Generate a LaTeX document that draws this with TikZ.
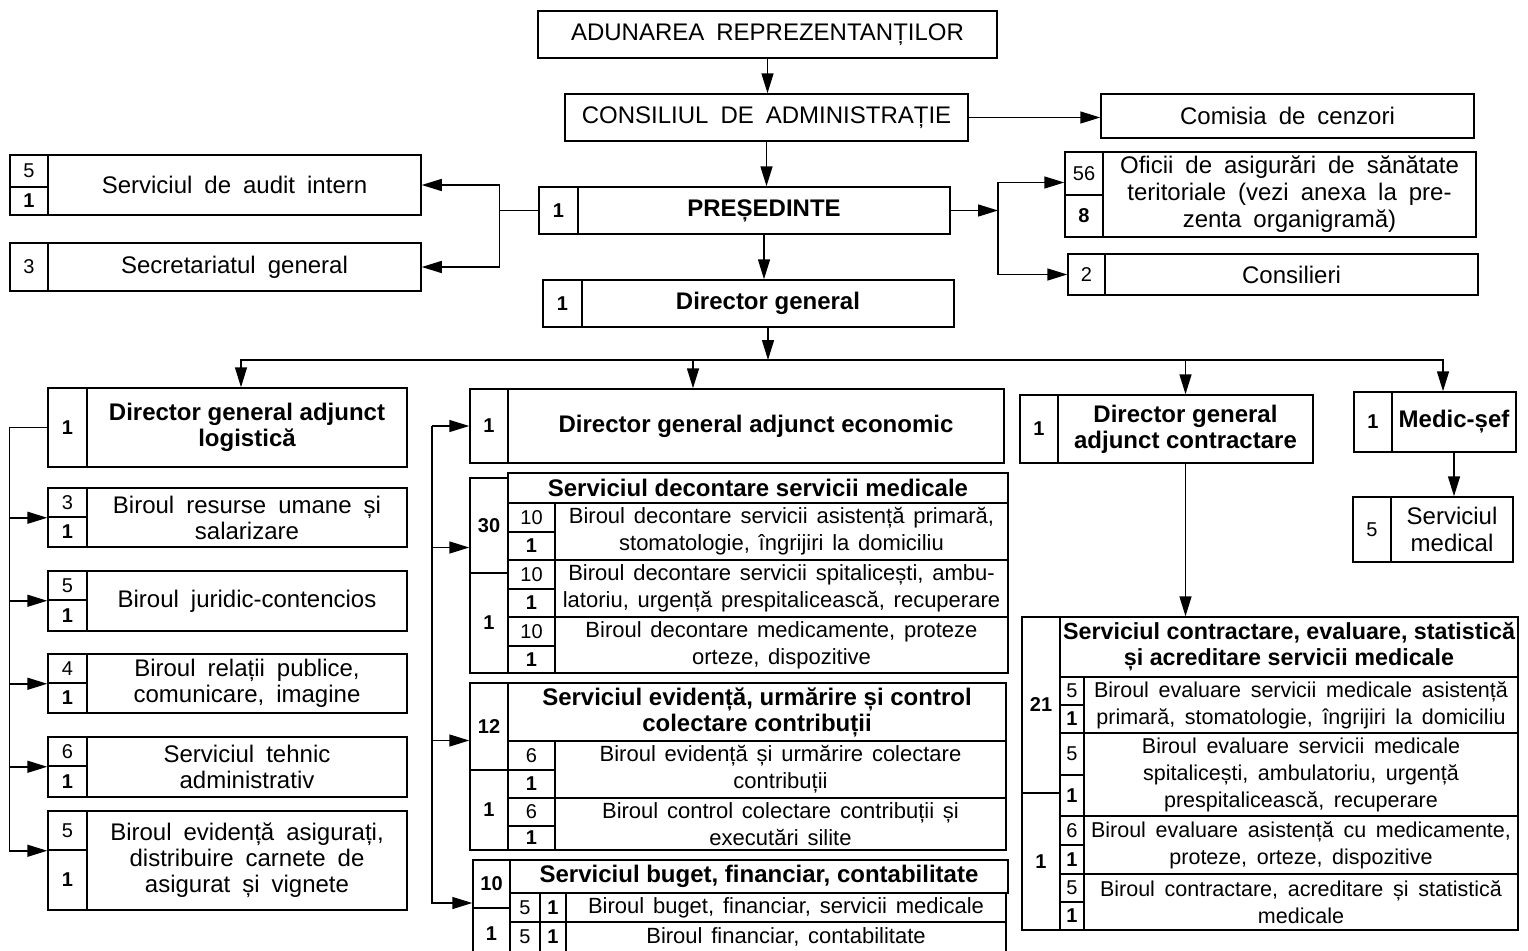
\documentclass[tikz,border=0pt]{standalone}
\usepackage{fontspec}
\setmainfont{Liberation Sans}
\usetikzlibrary{arrows.meta}

\begin{document}
\begin{tikzpicture}[x=1pt,y=-1pt,>={Triangle[length=20pt,width=12pt]},line width=1.5pt,
		box/.style={draw,inner sep=0pt,align=center},
		wh/.style 2 args={minimum width=#1pt,minimum height=#2pt},
		txtup/.style={font={\fontsize{24}{27}\selectfont\spaceskip=.5em\relax}},
		txtlf/.style={font={\fontsize{24}{26}\selectfont\spaceskip=.5em\relax}},
		txtmd/.style={font={\fontsize{22}{27}\selectfont\spaceskip=.4em\relax}},
		txtrt/.style={font={\fontsize{21.5}{27}\selectfont\spaceskip=.45em\relax}},
		txthd/.style={font={\fontsize{24}{26}\selectfont\bfseries}},
		txths/.style={font={\fontsize{23.3}{26}\selectfont\bfseries}},
		txtnm/.style={font={\fontsize{20}{22}\selectfont}},
		txtnb/.style={font={\fontsize{20}{22}\selectfont\bfseries}}]
			\useasboundingbox (0,0) rectangle (1528,950);
			% 顶部
			\node[box,txtup,wh={459}{47}] (adun) at (767.5,34.5) {ADUNAREA REPREZENTANȚILOR};
			\node[box,txtup,wh={403}{47}] (cons) at (766.5,117.5) {CONSILIUL DE ADMINISTRAȚIE};
			\node[box,txtup,wh={373}{44}] (cenz) at (1287.5,116) {Comisia de cenzori};
			\node[box,txtnb,wh={39}{47}] (presN) at (558.5,210.5) {1};
			\node[box,txthd,wh={372}{47}] (pres) at (764,210.5) {PREȘEDINTE};
			\node[box,txtnb,wh={39}{47}] (dgN) at (562.5,303.5) {1};
			\node[box,txthd,wh={372}{47}] (dg) at (768,303.5) {Director general};
			% 左上
			\node[box,txtnm,wh={38}{32}] (auditA) at (29,171) {5};
			\node[box,txtnb,wh={38}{28}] (auditB) at (29,201) {1};
			\node[box,txtup,wh={373}{60}] (audit) at (234.5,185) {Serviciul de audit intern};
			\node[box,txtnm,wh={38}{48}] (secrN) at (29,267) {3};
			\node[box,txtup,wh={373}{48}] (secr) at (234.5,267) {Secretariatul general};
			% 右上
			\node[box,txtnm,wh={38}{43}] (ofA) at (1084,173.5) {56};
			\node[box,txtnb,wh={38}{42}] (ofB) at (1084,216) {8};
			\node[box,txtup,wh={373}{85}] (of) at (1289.5,194.5) {Oficii de asigurări de sănătate\\teritoriale (vezi anexa la pre-\\zenta organigramă)};
			\node[box,txtnm,wh={37}{41}] (consN) at (1086.5,274.5) {2};
			\node[box,txtup,wh={373}{41}] (consl) at (1291.5,274.5) {Consilieri};
			% 左列
			\node[box,txtnb,wh={39}{79}] (logN) at (67.5,427.5) {1};
			\node[box,txthd,wh={320}{79}] (log) at (247,427.5) {Director general adjunct\\logistică};
			\node[box,txtnm,wh={39}{29}] (hrA) at (67.5,502.5) {3};
			\node[box,txtnb,wh={39}{30}] (hrB) at (67.5,532) {1};
			\node[box,txtlf,wh={320}{59}] (hr) at (247,517.5) {Biroul resurse umane și\\salarizare};
			\node[box,txtnm,wh={39}{29}] (jurA) at (67.5,585.5) {5};
			\node[box,txtnb,wh={39}{31}] (jurB) at (67.5,615.5) {1};
			\node[box,txtlf,wh={320}{60}] (jur) at (247,601) {Biroul juridic-contencios};
			\node[box,txtnm,wh={39}{29}] (relA) at (67.5,668.5) {4};
			\node[box,txtnb,wh={39}{30}] (relB) at (67.5,698) {1};
			\node[box,txtlf,wh={320}{59}] (rel) at (247,683.5) {Biroul relații publice,\\comunicare, imagine};
			\node[box,txtnm,wh={39}{29}] (tehA) at (67.5,751.5) {6};
			\node[box,txtnb,wh={39}{31}] (tehB) at (67.5,781.5) {1};
			\node[box,txtlf,wh={320}{60}] (teh) at (247,767) {Serviciul tehnic\\administrativ};
			\node[box,txtnm,wh={39}{39}] (asigA) at (67.5,830.5) {5};
			\node[box,txtnb,wh={39}{60}] (asigB) at (67.5,880) {1};
			\node[box,txtlf,wh={320}{99}] (asig) at (247,860.5) {Biroul evidență asigurați,\\distribuire carnete de\\asigurat și vignete};
			% 中列
			\node[box,txtnb,wh={38}{74}] (ecoN) at (489,426) {1};
			\node[box,txthd,wh={496}{74}] (eco) at (756,426) {Director general adjunct economic};
			\node[box,txtnb,wh={38}{95}] (dec1) at (489,525.5) {30};
			\node[box,txtnb,wh={38}{100}] (dec2) at (489,623) {1};
			\node[box,txthd,wh={500}{30}] (decH) at (758,488) {Serviciul decontare servicii medicale};
			\node[box,txtnm,wh={47}{29}] (d1A) at (531.5,517.5) {10};
			\node[box,txtnb,wh={47}{28}] (d1B) at (531.5,546) {1};
			\node[box,txtmd,wh={453}{57}] (d1) at (781.5,531.5) {Biroul decontare servicii asistență primară,\\stomatologie, îngrijiri la domiciliu};
			\node[box,txtnm,wh={47}{29}] (d2A) at (531.5,574.5) {10};
			\node[box,txtnb,wh={47}{28}] (d2B) at (531.5,603) {1};
			\node[box,txtmd,wh={453}{57}] (d2) at (781.5,588.5) {Biroul decontare servicii spitalicești, ambu-\\latoriu, urgență prespitalicească, recuperare};
			\node[box,txtnm,wh={47}{29}] (d3A) at (531.5,631.5) {10};
			\node[box,txtnb,wh={47}{27}] (d3B) at (531.5,659.5) {1};
			\node[box,txtmd,wh={453}{56}] (d3) at (781.5,645) {Biroul decontare medicamente, proteze\\orteze, dispozitive};
			\node[box,txtnb,wh={38}{87}] (urm1) at (489,726.5) {12};
			\node[box,txtnb,wh={38}{80}] (urm2) at (489,810) {1};
			\node[box,txthd,wh={498}{58}] (urmH) at (757,712) {Serviciul evidență, urmărire și control\\colectare contribuții};
			\node[box,txtnm,wh={47}{29}] (e1A) at (531.5,755.5) {6};
			\node[box,txtnb,wh={47}{28}] (e1B) at (531.5,784) {1};
			\node[box,txtmd,wh={451}{57}] (e1) at (780.5,769.5) {Biroul evidență și urmărire colectare\\contribuții};
			\node[box,txtnm,wh={47}{28}] (e2A) at (531.5,812) {6};
			\node[box,txtnb,wh={47}{24}] (e2B) at (531.5,838) {1};
			\node[box,txtmd,wh={451}{52}] (e2) at (780.5,824) {Biroul control colectare contribuții și\\executări silite};
			\node[box,txtnb,wh={37}{48}] (b1) at (491.5,884) {10};
			\node[box,txtnb,wh={37}{52}] (b2) at (491.5,934) {1};
			\node[box,txthd,wh={498}{33}] (bH) at (759,876.5) {Serviciul buget, financiar, contabilitate};
			\node[box,txtnm,wh={30}{29}] (r1a) at (525,907.5) {5};
			\node[box,txtnb,wh={26}{29}] (r1b) at (553,907.5) {1};
			\node[box,txtmd,wh={440}{29}] (r1) at (786,907.5) {Biroul buget, financiar, servicii medicale};
			\node[box,txtnm,wh={30}{30}] (r2a) at (525,937) {5};
			\node[box,txtnb,wh={26}{30}] (r2b) at (553,937) {1};
			\node[box,txtmd,wh={440}{30}] (r2) at (786,937) {Biroul financiar, contabilitate};
			% 右列
			\node[box,txtnb,wh={38}{68}] (ctrN) at (1039,429) {1};
			\node[box,txthd,wh={255}{68}] (ctr) at (1185.5,429) {Director general\\adjunct contractare};
			\node[box,txtnb,wh={38}{60}] (medN) at (1373,422) {1};
			\node[box,txthd,wh={124}{60}] (med) at (1454,422) {Medic-șef};
			\node[box,txtnm,wh={38}{65}] (smN) at (1372,529.5) {5};
			\node[box,txtup,wh={122}{65}] (sm) at (1452,529.5) {Serviciul\\medical};
			\node[box,txtnb,wh={38}{176}] (c1) at (1041,705) {21};
			\node[box,txtnb,wh={38}{137}] (c2) at (1041,861.5) {1};
			\node[box,txths,wh={458}{60}] (cH) at (1289,647) {Serviciul contractare, evaluare, statistică\\și acreditare servicii medicale};
			\node[box,txtnm,wh={24}{28}] (s1A) at (1072,691) {5};
			\node[box,txtnb,wh={24}{28}] (s1B) at (1072,719) {1};
			\node[box,txtrt,wh={434}{56}] (s1) at (1301,705) {Biroul evaluare servicii medicale asistență\\primară, stomatologie, îngrijiri la domiciliu};
			\node[box,txtnm,wh={24}{42}] (s2A) at (1072,754) {5};
			\node[box,txtnb,wh={24}{41}] (s2B) at (1072,795.5) {1};
			\node[box,txtrt,wh={434}{83}] (s2) at (1301,774.5) {Biroul evaluare servicii medicale\\spitalicești, ambulatoriu, urgență\\prespitalicească, recuperare};
			\node[box,txtnm,wh={24}{29}] (s3A) at (1072,830.5) {6};
			\node[box,txtnb,wh={24}{29}] (s3B) at (1072,859.5) {1};
			\node[box,txtrt,wh={434}{58}] (s3) at (1301,845) {Biroul evaluare asistență cu medicamente,\\proteze, orteze, dispozitive};
			\node[box,txtnm,wh={24}{28}] (s4A) at (1072,888) {5};
			\node[box,txtnb,wh={24}{28}] (s4B) at (1072,916) {1};
			\node[box,txtrt,wh={434}{56}] (s4) at (1301,902) {Biroul contractare, acreditare și statistică\\medicale};
			% 连线 顶部
			\draw[->] (adun.south) -- (adun.south |- cons.north);
			\draw[->] (cons.east) -- (cons.east -| cenz.west);
			\draw[->] (cons.south) -- (cons.south |- pres.north);
			\draw[->] (pres.south) -- (pres.south |- dg.north);
			\draw[->] (presN.west) -- ++(-39,0) |- (audit.east);
			\draw[->] (presN.west) -- ++(-39,0) |- (secr.east);
			\coordinate (jr) at (998,210.5);
			\draw[->] (pres.east) -- (jr);
			\draw[->] (jr) |- ([yshift=-9pt]ofA.west);
			\draw[->] (jr) |- (consN.west);
			% 连线 总线
			\coordinate (bus) at (dg.south |- 0,360);
			\draw[->] (dg.south) -- (bus);
			\draw[->] (bus) -| ([xshift=-6pt]log.north);
			\draw[->] (bus) -| ([xshift=-63pt]eco.north);
			\draw[->] (bus) -| (ctr.north);
			\draw[->] (bus) -| ([xshift=-11pt]med.north);
			% 连线 左列
			\draw[->] (logN.west) -- ++(-38,0) |- (hrA.south west);
			\draw[->] (logN.west) -- ++(-38,0) |- (jurA.south west);
			\draw[->] (logN.west) -- ++(-38,0) |- (relA.south west);
			\draw[->] (logN.west) -- ++(-38,0) |- (tehA.south west);
			\draw[->] (logN.west) -- ++(-38,0) |- (asigA.south west);
			% 连线 中列
			\coordinate (eb) at (432,426);
			\draw[->] (eb) -- (ecoN.west);
			\draw[->] (eb) |- ([yshift=-22pt]dec1.west);
			\draw[->] (eb) |- ([yshift=-14pt]urm1.west);
			\draw[->] (eb) |- ([yshift=-19pt]b1.west);
			% 连线 右列
			\draw[->] (ctr.south) -- (ctr.south |- cH.north);
			\draw[->] (med.south) -- (med.south |- sm.north);
		\end{tikzpicture}
\end{document}
